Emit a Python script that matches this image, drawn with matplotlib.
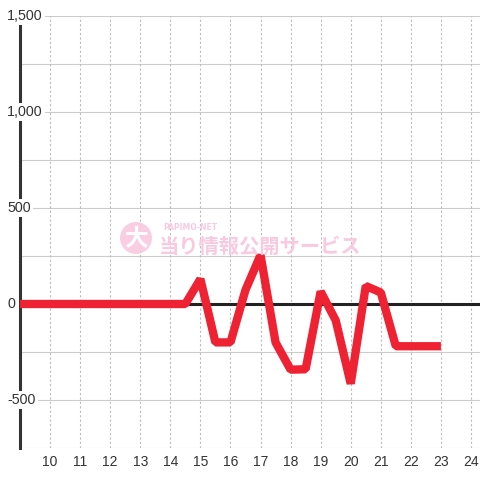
import matplotlib.pyplot as plt
from matplotlib.patches import Circle

# hourly balance (half-hour steps)
hours = [9, 9.5, 10, 10.5, 11, 11.5, 12, 12.5, 13, 13.5, 14, 14.5,
         15, 15.5, 16, 16.5, 17, 17.5, 18, 18.5, 19, 19.5, 20, 20.5,
         21, 21.5, 22, 22.5, 23]
balance = [0, 0, 0, 0, 0, 0, 0, 0, 0, 0, 0, 0,
           130, -200, -200, 73, 255, -200, -342, -340, 65, -85, -415, 94,
           60, -220, -220, -220, -220]

x_ticks = [10, 11, 12, 13, 14, 15, 16, 17, 18, 19, 20, 21, 22, 23, 24]
y_labels = [1500, 1000, 500, 0, -500]
y_grid = [-750, -500, -250, 0, 250, 500, 750, 1000, 1250, 1500]

FONT = "Liberation Sans"
TEXT_COLOR = "#333333"
LINE_COLOR = "#EE2233"

fig = plt.figure(figsize=(4.8, 4.8), dpi=100)
ax = fig.add_axes([20 / 480, 32 / 480, 460 / 480, 432 / 480])

ax.set_xlim(9, 24.3)
ax.set_ylim(-750, 1500)

for spine in ("top", "right", "bottom"):
    ax.spines[spine].set_visible(False)
ax.spines["left"].set_color("#333333")
ax.spines["left"].set_linewidth(2.2)
ax.spines["left"].set_zorder(3)

# grid
for y in y_grid:
    ax.axhline(y, color="#cccccc", linewidth=0.8, zorder=1)
for x in x_ticks:
    ax.axvline(x, color="#bbbbbb", linewidth=0.8, linestyle=(0, (2, 2)), zorder=1)

ax.axhline(0, color="#222222", linewidth=2.2, zorder=2)

ax.plot(hours, balance, color=LINE_COLOR, linewidth=6, zorder=4,
        solid_joinstyle="bevel", solid_capstyle="butt")

ax.set_xticks(x_ticks)
ax.set_xticklabels([str(x) for x in x_ticks], fontsize=10, color=TEXT_COLOR,
                   fontfamily=FONT)
ax.tick_params(axis="x", length=0, pad=5)
ax.set_yticks([])

for y in y_labels:
    ax.text(-13 / 460, y, f"{y:,}", transform=ax.get_yaxis_transform(),
            ha="left", va="center", fontsize=10.3, color=TEXT_COLOR,
            fontfamily=FONT, zorder=6, clip_on=False,
            bbox=dict(facecolor="white", edgecolor="none", pad=1.5))

# watermark
wm = "#F9C9E0"
fig.patches.append(Circle((136 / 480, 1 - 238 / 480), 16 / 480,
                          transform=fig.transFigure, facecolor=wm,
                          edgecolor="none", zorder=0.5, alpha=0.9))
fig.text(136 / 480, 1 - 239 / 480, "大", ha="center", va="center",
         fontsize=17, color="white", fontweight="bold",
         fontfamily="Noto Sans CJK JP", zorder=0.6)
fig.text(163 / 480, 1 - 227 / 480, "PAPIMO-NET", ha="left", va="center",
         fontsize=5.5, color=wm, fontweight="bold", fontfamily="DejaVu Sans")
fig.text(159 / 480, 1 - 246 / 480, "当り情報公開サービス", ha="left", va="center",
         fontsize=14.6, color=wm, fontweight="bold",
         fontfamily="Noto Sans CJK JP")

fig.savefig("out.png", dpi=100, facecolor="white")
